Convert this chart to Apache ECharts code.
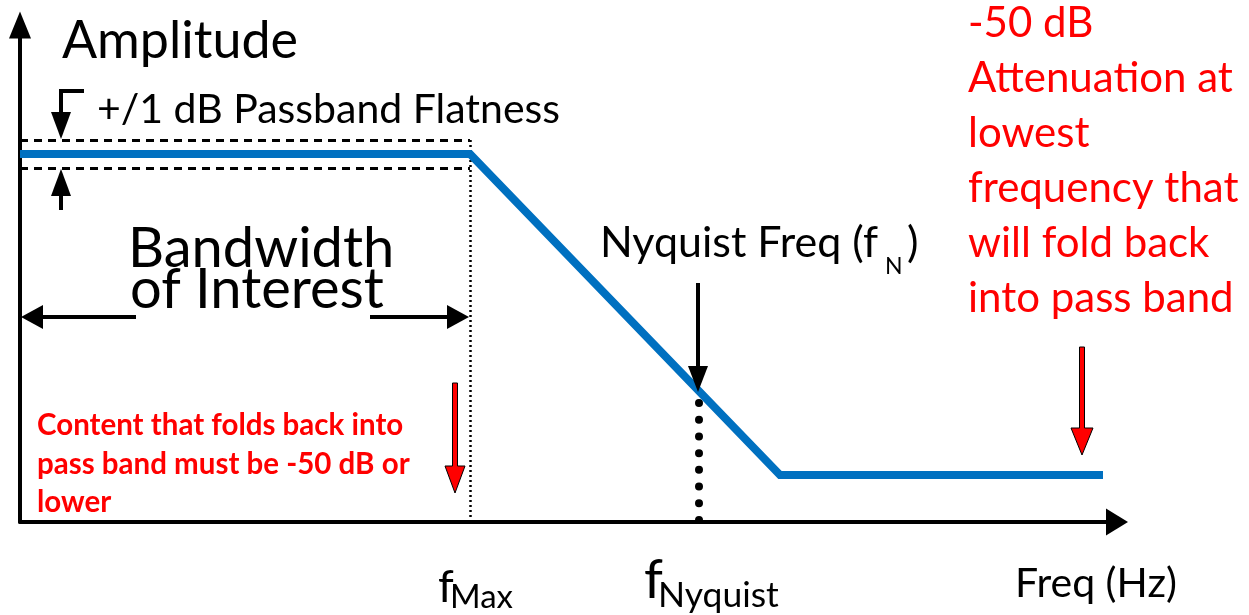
<!DOCTYPE html>
<html><head><meta charset="utf-8">
<script src="https://cdn.jsdelivr.net/npm/echarts@6/dist/echarts.min.js"></script>
<style>html,body{margin:0;padding:0;background:#fff}#c{width:1249px;height:615px}</style>
</head><body><div id="c"></div>
<script>
// Filter response sketch (arbitrary units: x = frequency, y = amplitude)
const freq = [0, 450, 760, 1083];
const amplitude = [368, 368, 47, 47];
const fMax = 450;
const fNyquist = 679;
const flatnessUpper = 382;
const flatnessLower = 354;
const nyquistDotTop = 119;

const FONT = 'Lato, "Noto Sans", sans-serif';
const chart = echarts.init(document.getElementById('c'), null, {renderer: 'canvas'});

const baseOption = {
  animation: false,
  backgroundColor: '#fff',
  grid: {left: 20, top: 25, width: 1097, height: 497},
  xAxis: {
    type: 'value', min: 0, max: 1097,
    axisLine: {show: true, onZero: false, lineStyle: {color: '#000', width: 4}, symbol: ['none', 'triangle'], symbolSize: [27, 22]},
    axisTick: {show: false}, axisLabel: {show: false}, splitLine: {show: false}
  },
  yAxis: {
    type: 'value', min: 0, max: 497,
    axisLine: {show: true, onZero: false, lineStyle: {color: '#000', width: 4}, symbol: ['none', 'triangle'], symbolSize: [22, 27]},
    axisTick: {show: false}, axisLabel: {show: false}, splitLine: {show: false}
  },
  series: [{
    type: 'line',
    data: freq.map((f, i) => [f, amplitude[i]]),
    showSymbol: false,
    lineStyle: {color: '#0070C0', width: 8, join: 'miter'},
    z: 3,
    markLine: {
      silent: true,
      symbol: ['none', 'none'],
      label: {show: false},
      z: 2,
      data: [
        [{coord: [0, flatnessUpper], lineStyle: {type: [8, 6], width: 3, color: '#000'}}, {coord: [fMax, flatnessUpper]}],
        [{coord: [0, flatnessLower], lineStyle: {type: [8, 6], width: 3, color: '#000'}}, {coord: [fMax, flatnessLower]}],
        [{coord: [fMax, flatnessUpper], lineStyle: {type: [2, 3], width: 2.5, color: '#000'}}, {coord: [fMax, 0]}],
        [{coord: [fNyquist, nyquistDotTop], lineStyle: {type: [0.01, 16.7], width: 8, color: '#000', cap: 'round'}}, {coord: [fNyquist, 0]}]
      ]
    }
  }]
};
chart.setOption(baseOption);

const P = (x, y) => chart.convertToPixel({gridIndex: 0}, [x, y]);

function blackArrow(pts, dir, headLen, headHalf) {
  const tip = pts[pts.length - 1];
  const base = [tip[0] - dir[0] * headLen, tip[1] - dir[1] * headLen];
  const shaft = pts.slice(0, -1).concat([[tip[0] - dir[0] * (headLen - 2), tip[1] - dir[1] * (headLen - 2)]]);
  const nx = -dir[1], ny = dir[0];
  return [
    {type: 'polyline', shape: {points: shaft}, style: {stroke: '#000', lineWidth: 4, fill: null}, z: 10},
    {type: 'polygon', shape: {points: [tip, [base[0] + nx * headHalf, base[1] + ny * headHalf], [base[0] - nx * headHalf, base[1] - ny * headHalf]]}, style: {fill: '#000'}, z: 10}
  ];
}
function redArrow(x, y0, y1, headLen, headHalf, sw) {
  const hb = y1 - headLen;
  return {type: 'polygon', shape: {points: [[x - sw, y0], [x + sw, y0], [x + sw, hb], [x + headHalf, hb], [x, y1], [x - headHalf, hb], [x - sw, hb]]},
    style: {fill: '#FF0000', stroke: '#000', lineWidth: 1}, z: 10};
}
// x = left, y = baseline
function txt(text, x, y, size, color, weight) {
  return {type: 'text', x: x, y: y - 0.82 * size, z: 20, style: {text: text, fill: color || '#000', font: (weight || 'normal') + ' ' + size + 'px ' + FONT, verticalAlign: 'top', align: 'left'}};
}

const pUp = P(0, flatnessUpper), pLo = P(0, flatnessLower);
const pMax = P(fMax, 0), pNyq = P(fNyquist, 0);
const yBW = 317;

const g = [];
g.push(...blackArrow([[84, 91], [61, 91], [61, pUp[1] - 1]], [0, 1], 27, 10));
g.push(...blackArrow([[61, 210], [61, pLo[1] + 1]], [0, -1], 27, 10));
g.push(...blackArrow([[136, yBW], [P(0, 0)[0] + 1, yBW]], [-1, 0], 22, 12));
g.push(...blackArrow([[370, yBW], [pMax[0] - 1, yBW]], [1, 0], 22, 12));
g.push(...blackArrow([[pNyq[0] - 1, 283], [pNyq[0] - 1, 392]], [0, 1], 26, 10));
g.push(redArrow(455, 383, 493, 27, 10, 2.5));
g.push(redArrow(1082, 347, 455, 27, 11, 2.5));

g.push(txt('Amplitude', 62, 58, 52));
g.push(txt('+/1 dB Passband Flatness', 97, 123, 41));
g.push(txt('Bandwidth', 128, 267, 56));
g.push(txt('of Interest', 130, 308, 56));
g.push(txt('Nyquist Freq (f', 600, 257, 43));
g.push(txt('N', 885, 274, 23));
g.push(txt(')', 907, 257, 43));
const red = ['-50 dB', 'Attenuation at', 'lowest', 'frequency that', 'will fold back', 'into pass band'];
red.forEach((t, i) => g.push(txt(t, 968, 37 + i * 55, 42, '#FF0000')));
const redSmall = ['Content that folds back into', 'pass band must be -50 dB or', 'lower'];
redSmall.forEach((t, i) => g.push(txt(t, 37, 435 + i * 38.5, 29.5, '#FF0000', 'bold')));
g.push(txt('f', 438, 602, 45));
g.push(txt('Max', 450, 608, 33));
g.push(txt('f', 644, 598, 54));
g.push(txt('Nyquist', 658, 607, 35.5));
g.push(txt('Freq (Hz)', 1015, 597, 41));

chart.setOption({graphic: {elements: g}});
</script>
</body></html>
